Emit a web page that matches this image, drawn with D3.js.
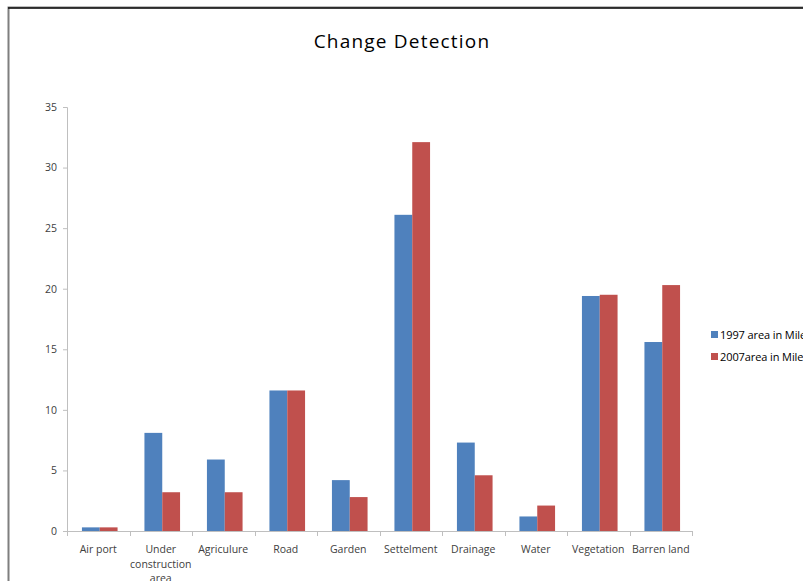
<!DOCTYPE html>
<html>
<head>
<meta charset="utf-8">
<script src="https://cdn.jsdelivr.net/npm/d3@7"></script>
<style>
  html, body { margin: 0; padding: 0; background: #fff; }
  svg { display: block; }
  text { font-family: "Open Sans", "Liberation Sans", sans-serif; }
</style>
</head>
<body>
<svg id="chart" width="803" height="581"></svg>
<script>
// Land-use categories and area (in miles) for the two survey years
const categories = ["Air port", "Under construction area", "Agriculure", "Road", "Garden",
                    "Settelment", "Drainage", "Water", "Vegetation", "Barren land"];
const area1997 = [0.3, 8.1, 5.9, 11.6, 4.2, 26.1, 7.3, 1.2, 19.4, 15.6];
const area2007 = [0.3, 3.2, 3.2, 11.6, 2.8, 32.1, 4.6, 2.1, 19.5, 20.3];
const seriesNames = ["1997 area in Miles", "2007area in Miles"];
const seriesColors = ["#4f81bd", "#c0504d"];
const yTicks = [0, 5, 10, 15, 20, 25, 30, 35];

const svg = d3.select("#chart");

// outer chart frame
svg.append("rect")
  .attr("x", 8.5).attr("y", 7.5)
  .attr("width", 820).attr("height", 600)
  .attr("fill", "#fff")
  .attr("stroke", "#7f7f7f").attr("stroke-width", 2);
svg.append("line")
  .attr("x1", 8).attr("x2", 803).attr("y1", 8).attr("y2", 8)
  .attr("stroke", "#111").attr("stroke-width", 1.5);

const plot = { left: 67, right: 692, top: 107, bottom: 531 };

// bars sit a pixel right of the category boundaries
const x = d3.scaleBand()
  .domain(categories)
  .range([plot.left + 1.5, plot.right + 1.5])
  .paddingInner(0.43).paddingOuter(0.215);

const xSub = d3.scaleBand()
  .domain([0, 1])
  .range([0, x.bandwidth()]);

const y = d3.scaleLinear()
  .domain([0, 35])
  .range([plot.bottom, plot.top]);

// title
svg.append("text")
  .attr("x", 402).attr("y", 48)
  .attr("text-anchor", "middle")
  .attr("font-size", 19)
  .attr("letter-spacing", "1.2px")
  .attr("fill", "#000")
  .text("Change Detection");

// y axis
const yAxis = svg.append("g")
  .attr("transform", `translate(${plot.left},0)`)
  .call(d3.axisLeft(y).tickValues(yTicks).tickSize(4).tickPadding(6));
yAxis.select(".domain").attr("stroke", "#bfbfbf");
yAxis.selectAll(".tick line").attr("stroke", "#bfbfbf");
yAxis.selectAll(".tick text")
  .attr("fill", "#404040").attr("font-size", 10.5)
  .attr("font-family", "\"Open Sans\", sans-serif");

// x axis with ticks on category boundaries
const boundaries = d3.range(categories.length + 1)
  .map(i => plot.left + i * (plot.right - plot.left) / categories.length);
const xg = svg.append("g");
xg.append("line")
  .attr("x1", plot.left).attr("x2", plot.right)
  .attr("y1", plot.bottom + 0.5).attr("y2", plot.bottom + 0.5)
  .attr("stroke", "#bfbfbf");
xg.selectAll("line.tk").data(boundaries).join("line")
  .attr("class", "tk")
  .attr("x1", d => Math.round(d) + 0.5).attr("x2", d => Math.round(d) + 0.5)
  .attr("y1", plot.bottom).attr("y2", plot.bottom + 5)
  .attr("stroke", "#bfbfbf");

// category labels, wrapped like the spreadsheet labels
const labelLines = {
  "Under construction area": ["Under", "construction", "area"]
};
xg.selectAll("text.cat").data(categories).join("text")
  .attr("class", "cat")
  .attr("text-anchor", "middle")
  .attr("font-size", 10.5)
  .attr("fill", "#404040")
  .attr("transform", (d, i) => `translate(${(boundaries[i] + boundaries[i + 1]) / 2},553)`)
  .each(function(d) {
    const lines = labelLines[d] || [d];
    d3.select(this).selectAll("tspan").data(lines).join("tspan")
      .attr("x", 0).attr("dy", (l, i) => i === 0 ? 0 : 14.5)
      .text(l => l);
  });

// bars
const series = [area1997, area2007];
series.forEach((vals, si) => {
  svg.append("g").selectAll("rect").data(vals).join("rect")
    .attr("x", (v, i) => x(categories[i]) + xSub(si))
    .attr("y", v => y(v))
    .attr("width", xSub.bandwidth())
    .attr("height", v => y(0) - y(v))
    .attr("fill", seriesColors[si]);
});

// legend
const legend = svg.append("g").attr("transform", "translate(711,331)");
seriesNames.forEach((name, i) => {
  const g = legend.append("g").attr("transform", `translate(0,${i * 22})`);
  g.append("rect").attr("width", 7).attr("height", 7).attr("fill", seriesColors[i]);
  g.append("text")
    .attr("x", 9).attr("y", 7.5)
    .attr("font-size", 11).attr("fill", "#000")
    .attr("letter-spacing", "-0.1px")
    .text(name);
});
</script>
</body>
</html>
